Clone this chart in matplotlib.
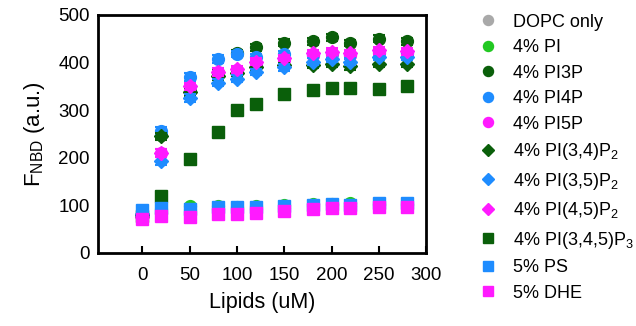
import matplotlib
matplotlib.use("Agg")
import matplotlib.pyplot as plt
from matplotlib.lines import Line2D

plt.rcParams['font.family'] = ['Liberation Sans', 'DejaVu Sans']
plt.rcParams['mathtext.fontset'] = 'custom'
plt.rcParams['mathtext.rm'] = 'Liberation Sans'
plt.rcParams['mathtext.it'] = 'Liberation Sans'

lipids = [0, 20, 50, 80, 100, 120, 150, 180, 200, 220, 250, 280]

labels = ["DOPC only", "4% PI", "4% PI3P", "4% PI4P", "4% PI5P",
          "4% PI(3,4)P$_2$", "4% PI(3,5)P$_2$", "4% PI(4,5)P$_2$",
          "4% PI(3,4,5)P$_3$", "5% PS", "5% DHE"]

dopc   = [80, 85, 90, 92, 92, 93, 95, 98, 100, 98, 100, 100]
pi     = [82, 92, 98, 98, 97, 98, 101, 102, 102, 104, 102, 102]
pi3p   = [80, 248, 340, 378, 420, 432, 442, 445, 453, 441, 450, 445]
pi4p   = [85, 257, 370, 408, 418, 412, 418, 416, 418, 415, 420, 420]
pi5p   = [78, 210, 348, 380, 384, 398, 406, 417, 420, 417, 422, 420]
pi34p2 = [80, 245, 338, 372, 378, 390, 395, 395, 398, 392, 398, 398]
pi35p2 = [82, 193, 325, 358, 366, 380, 390, 402, 408, 402, 412, 412]
pi45p2 = [76, 210, 350, 380, 386, 402, 410, 420, 423, 420, 426, 424]
pip3   = [78, 120, 198, 255, 300, 313, 335, 343, 347, 347, 345, 350]
ps     = [90, 95, 93, 96, 96, 97, 98, 100, 103, 100, 104, 104]
dhe    = [72, 78, 76, 82, 82, 83, 88, 93, 95, 94, 96, 96]

err_small = [6, 6, 5, 5, 5, 5, 5, 5, 5, 5, 5, 5]
err_high  = [6, 8, 8, 8, 7, 7, 7, 7, 7, 7, 7, 7]

series = [dopc, pi, pi3p, pi4p, pi5p, pi34p2, pi35p2, pi45p2, pip3, ps, dhe]
errs = [err_small, err_small, err_high, err_high, err_high, err_high,
        err_high, err_high, err_high, err_small, err_small]
colors = ["#a9a9a9", "#22c822", "#0a5f0a", "#1e8cff", "#ff1aff",
          "#0a5f0a", "#1e8cff", "#ff1aff", "#0a5f0a", "#1e8cff", "#ff1aff"]
markers = ["o", "o", "o", "o", "o", "D", "D", "D", "s", "s", "s"]
msizes = [8.5, 8.5, 8.5, 8.5, 8.5, 7.5, 7.5, 7.5, 8, 8, 8]

fig = plt.figure(figsize=(6.36, 3.26), dpi=100)
ax = fig.add_axes([0.154, 0.224, 0.516, 0.730])

handles = []
for y, e, c, m, ms, lab in zip(series, errs, colors, markers, msizes, labels):
    ax.errorbar(lipids, y, yerr=e, fmt='none', ecolor=c, elinewidth=1.5,
                capsize=4, capthick=1.5)
    ax.plot(lipids, y, linestyle='none', marker=m, markersize=ms,
            color=c, markeredgecolor=c)
    handles.append(Line2D([], [], linestyle='none', marker=m,
                          markersize=ms * 0.85, color=c, label=lab))

ax.set_xlim(-47, 300)
ax.set_ylim(0, 500)
ax.set_xticks([0, 50, 100, 150, 200, 250, 300])
ax.set_yticks([0, 100, 200, 300, 400, 500])
ax.tick_params(axis='x', direction='in', length=5, width=1.5, labelsize=13.5, pad=10)
ax.tick_params(axis='y', length=0, labelsize=13.5, pad=6)
for s in ax.spines.values():
    s.set_linewidth(2)

ax.set_xlabel("Lipids (uM)", fontsize=15.5, labelpad=6)
ax.set_ylabel("F$_{\\rm NBD}$ (a.u.)", fontsize=16, labelpad=8)

fig.legend(handles=handles, loc='upper left', bbox_to_anchor=(0.742, 0.98),
           frameon=False, fontsize=13, handletextpad=0.9, labelspacing=0.47,
           handlelength=1.0, borderaxespad=0)

fig.savefig("out.png", dpi=100)
